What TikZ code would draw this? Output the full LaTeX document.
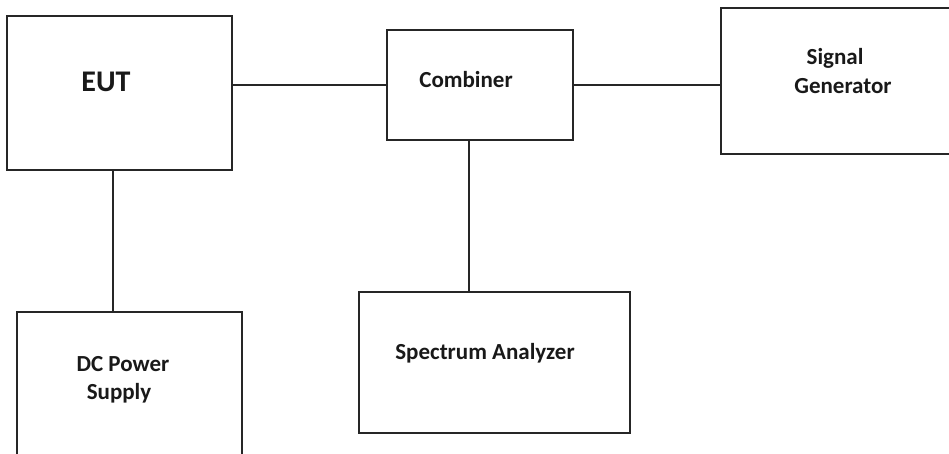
\documentclass[tikz,border=0pt]{standalone}
\usepackage{fontspec}
\setmainfont{Carlito}
\begin{document}
\begin{tikzpicture}[x=1pt,y=-1pt,
  box/.style={draw=black!85,line width=2pt,rectangle,inner sep=0pt},
  lbl/.style={font=\fontsize{23}{26}\selectfont\bfseries,inner sep=0pt,text=black!90},
  wire/.style={draw=black!85,line width=2pt}]
\useasboundingbox[clip] (0,0) rectangle (949,453);
\fill[white] (0,0) rectangle (949,453);
\node[box,minimum width=225pt,minimum height=154pt] (eut) at (119.5,93) {};
\node[box,minimum width=186pt,minimum height=110pt] (comb) at (480,85) {};
\node[box,minimum width=234pt,minimum height=146pt] (sg) at (838,81) {};
\node[box,minimum width=225pt,minimum height=148pt] (dc) at (129.5,386) {};
\node[box,minimum width=271pt,minimum height=141pt] (spec) at (494.5,362.5) {};
\node[lbl,font=\fontsize{30}{32}\selectfont\bfseries] (teut) at (106,82) {EUT};
\node[lbl] (tcomb) at (466,80) {Combiner};
\node[lbl] (tsig) at (835,58) {Signal};
\node[lbl] (tgen) at (843,86) {Generator};
\node[lbl] (tdc) at (123,364) {DC Power};
\node[lbl] (tsup) at (119,393) {Supply};
\node[lbl] (tspec) at (485,353) {Spectrum Analyzer};
\draw[wire] (eut.east |- comb.west) -- (comb.west);
\draw[wire] (comb.east) -- (sg.west |- comb.east);
\draw[wire] ([xshift=-11pt]comb.south) -- ([xshift=-11pt]comb.south |- spec.north);
\draw[wire] ([xshift=-6.5pt]eut.south) -- ([xshift=-6.5pt]eut.south |- dc.north);
\end{tikzpicture}
\end{document}
